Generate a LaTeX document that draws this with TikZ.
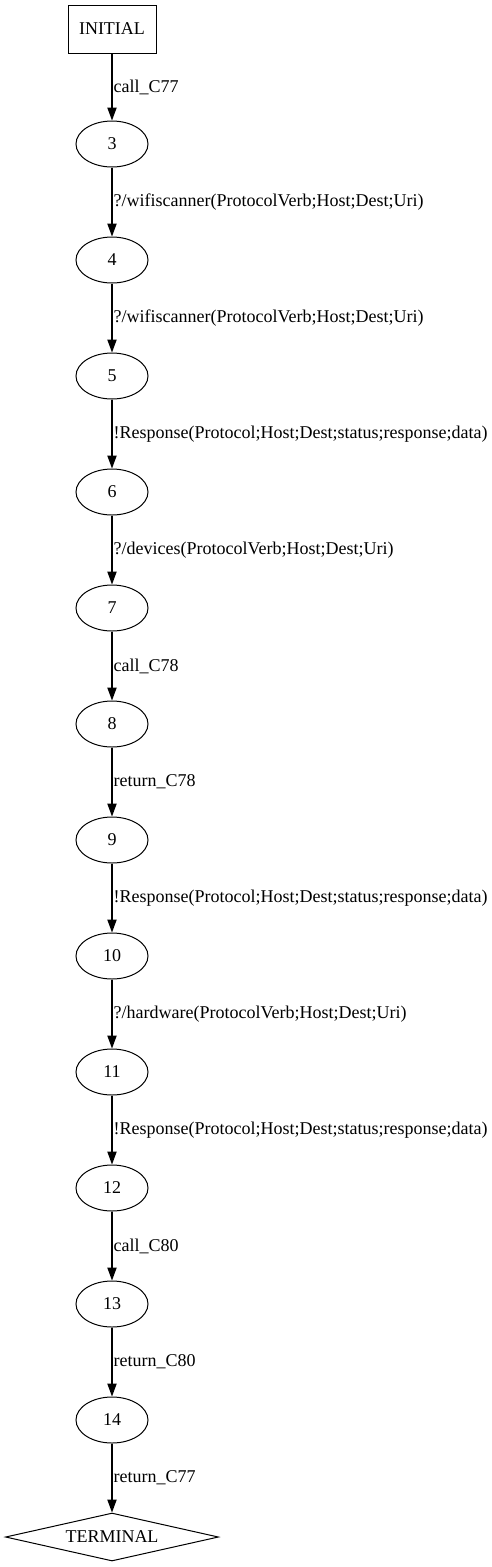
\documentclass[tikz,border=0pt]{standalone}
\usepackage{fontspec}
\setmainfont{Liberation Serif}
\usetikzlibrary{shapes.geometric,arrows.meta}
\begin{document}
\begin{tikzpicture}[x=1pt,y=-1pt,
  gvfont/.style={font=\fontsize{18pt}{21pt}\selectfont},
  state/.style={draw,ellipse,line width=1pt,minimum width=72pt,minimum height=46pt,inner sep=0pt,gvfont},
  initbox/.style={draw,rectangle,line width=1pt,minimum width=88pt,minimum height=48pt,inner sep=0pt,gvfont},
  termbox/.style={draw,diamond,line width=1pt,aspect=4.6,minimum width=213pt,minimum height=48pt,inner sep=0pt,gvfont},
  edge/.style={draw,-{Triangle[length=13pt,width=9.3pt]},line width=1.2pt},
  lbl/.style={right,inner sep=0pt,xshift=1pt,gvfont}]
\useasboundingbox (0,0) rectangle (492,1567);
\node[initbox] (init) at (112,29) {INITIAL};
\node[state] (n3) at (112,144) {3};
\node[state] (n4) at (112,260) {4};
\node[state] (n5) at (112,376) {5};
\node[state] (n6) at (112,492) {6};
\node[state] (n7) at (112,608) {7};
\node[state] (n8) at (112,724) {8};
\node[state] (n9) at (112,840) {9};
\node[state] (n10) at (112,956) {10};
\node[state] (n11) at (112,1072) {11};
\node[state] (n12) at (112,1188) {12};
\node[state] (n13) at (112,1304) {13};
\node[state] (n14) at (112,1420) {14};
\node[termbox] (term) at (112,1537) {TERMINAL};
\draw[edge] (init) -- node[lbl] {call\_C77} (n3);
\draw[edge] (n3) -- node[lbl] {?/wifiscanner(ProtocolVerb;Host;Dest;Uri)} (n4);
\draw[edge] (n4) -- node[lbl] {?/wifiscanner(ProtocolVerb;Host;Dest;Uri)} (n5);
\draw[edge] (n5) -- node[lbl] {!Response(Protocol;Host;Dest;status;response;data)} (n6);
\draw[edge] (n6) -- node[lbl] {?/devices(ProtocolVerb;Host;Dest;Uri)} (n7);
\draw[edge] (n7) -- node[lbl] {call\_C78} (n8);
\draw[edge] (n8) -- node[lbl] {return\_C78} (n9);
\draw[edge] (n9) -- node[lbl] {!Response(Protocol;Host;Dest;status;response;data)} (n10);
\draw[edge] (n10) -- node[lbl] {?/hardware(ProtocolVerb;Host;Dest;Uri)} (n11);
\draw[edge] (n11) -- node[lbl] {!Response(Protocol;Host;Dest;status;response;data)} (n12);
\draw[edge] (n12) -- node[lbl] {call\_C80} (n13);
\draw[edge] (n13) -- node[lbl] {return\_C80} (n14);
\draw[edge] (n14) -- node[lbl] {return\_C77} (term);
\end{tikzpicture}
\end{document}
